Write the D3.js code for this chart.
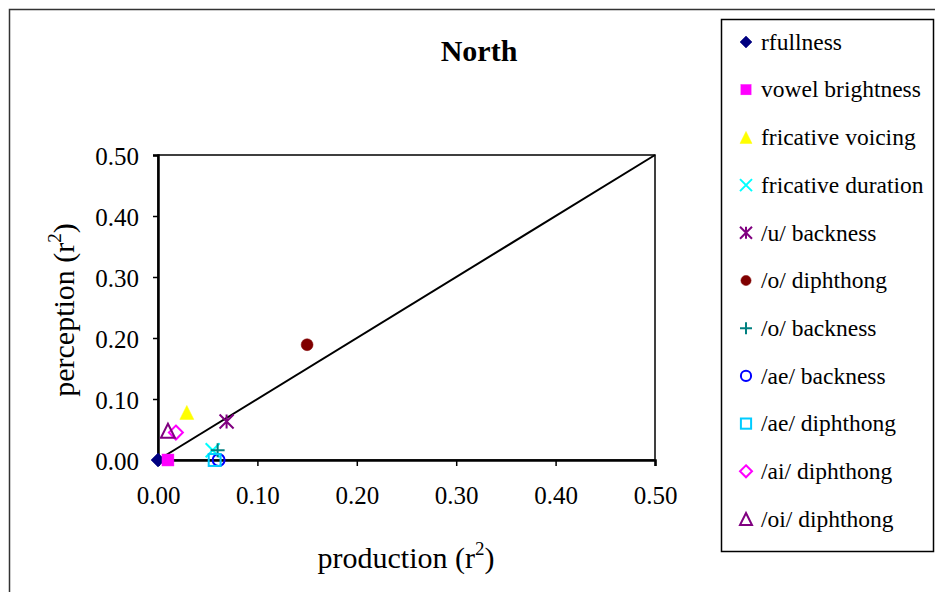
<!DOCTYPE html>
<html lang="en">
<head>
  <meta charset="utf-8">
  <title>North</title>
  <script src="https://d3js.org/d3.v7.min.js"></script>
  <style>
    body { margin: 0; background: #fff; }
    text { font-family: "Liberation Serif", "DejaVu Serif", serif; fill: #000; }
  </style>
</head>
<body>
  <div id="chart"></div>
  <script>
    "use strict"

    // series names, in legend order
    var series = ["rfullness", "vowel brightness", "fricative voicing", "fricative duration",
                  "/u/ backness", "/o/ diphthong", "/o/ backness", "/ae/ backness",
                  "/ae/ diphthong", "/ai/ diphthong", "/oi/ diphthong"];
    // production r^2 (x) and perception r^2 (y), one point per series
    var production = [0.000, 0.010, 0.029, 0.055, 0.069, 0.150, 0.060, 0.061, 0.057, 0.018, 0.010];
    var perception = [0.000, 0.000, 0.078, 0.016, 0.063, 0.189, 0.016, 0.000, 0.000, 0.045, 0.048];
    var ticks = [0, 0.1, 0.2, 0.3, 0.4, 0.5];

    // marker look per series
    var shapes = ["diamond", "square", "triangle", "x", "star", "circle", "plus", "circle", "square", "diamond", "triangle"];
    var filled = [true, true, true, false, false, true, false, false, false, false, false];
    var colors = ["#000080", "#ff00ff", "#ffff00", "#00ffff", "#800080", "#800000",
                  "#008080", "#0000ff", "#00ccff", "#ff00ff", "#800080"];

    var W = 935, H = 592;
    var svg = d3.select("#chart").append("svg").attr("width", W).attr("height", H);

    // outer chart frame (runs off the page on right and bottom)
    svg.append("rect").attr("x", 9.5).attr("y", 9.5).attr("width", 960).attr("height", 620)
       .attr("fill", "none").attr("stroke", "#333").attr("stroke-width", 1.5);

    var x = d3.scaleLinear().domain([0, 0.5]).range([158, 655]);
    var y = d3.scaleLinear().domain([0, 0.5]).range([460, 155]);

    // plot area box
    svg.append("rect").attr("x", x(0)).attr("y", y(0.5))
       .attr("width", x(0.5) - x(0)).attr("height", y(0) - y(0.5))
       .attr("fill", "none").attr("stroke", "#000").attr("stroke-width", 1.5);

    var fmt = d3.format(".2f");
    var gx = svg.append("g").attr("transform", "translate(0," + y(0) + ")")
       .call(d3.axisBottom(x).tickValues(ticks).tickFormat(fmt).tickSize(6).tickPadding(20));
    var gy = svg.append("g").attr("transform", "translate(" + x(0) + ",0)")
       .call(d3.axisLeft(y).tickValues(ticks).tickFormat(fmt).tickSize(5).tickPadding(14));
    [gx, gy].forEach(function(g) {
      g.select(".domain").attr("stroke", "#000").attr("stroke-width", 2.5);
      g.selectAll(".tick line").attr("stroke", "#000").attr("stroke-width", 1.5);
      g.selectAll(".tick text").attr("font-size", 25).attr("font-family", "Liberation Serif").attr("fill", "#000");
    });
    gy.selectAll(".tick text").attr("dy", "0.36em");

    // diagonal y = x
    svg.append("line").attr("x1", x(0)).attr("y1", y(0)).attr("x2", x(0.5)).attr("y2", y(0.5))
       .attr("stroke", "#000").attr("stroke-width", 2);

    function marker(g, shape, color, fill, s) {
      var r = s / 2;
      if (shape === "diamond") {
        g.append("path").attr("d", "M0," + (-r) + "L" + r + ",0L0," + r + "L" + (-r) + ",0Z");
      } else if (shape === "square") {
        g.append("rect").attr("x", -r * 0.85).attr("y", -r * 0.85).attr("width", s * 0.85).attr("height", s * 0.85);
      } else if (shape === "triangle") {
        g.append("path").attr("d", "M0," + (-r) + "L" + r + "," + r + "L" + (-r) + "," + r + "Z");
      } else if (shape === "circle") {
        g.append("circle").attr("r", r * 0.85);
      } else if (shape === "x") {
        g.append("path").attr("d", "M" + (-r) + "," + (-r) + "L" + r + "," + r + "M" + r + "," + (-r) + "L" + (-r) + "," + r);
      } else if (shape === "plus") {
        g.append("path").attr("d", "M0," + (-r) + "L0," + r + "M" + (-r) + ",0L" + r + ",0");
      } else if (shape === "star") {
        g.append("path").attr("d", "M" + (-r) + "," + (-r) + "L" + r + "," + r + "M" + r + "," + (-r) + "L" + (-r) + "," + r + "M0," + (-r) + "L0," + r);
      }
      g.selectAll("*")
       .attr("fill", fill ? color : "none")
       .attr("stroke", color)
       .attr("stroke-width", fill ? 0.5 : 2);
    }

    // points
    series.forEach(function(name, i) {
      var g = svg.append("g").attr("transform", "translate(" + x(production[i]) + "," + y(perception[i]) + ")");
      marker(g, shapes[i], colors[i], filled[i], 14);
    });

    // title and axis titles
    svg.append("text").attr("x", 479).attr("y", 61).attr("text-anchor", "middle")
       .attr("font-size", 30).attr("font-weight", "bold").text("North");

    var xt = svg.append("text").attr("x", 406).attr("y", 568).attr("text-anchor", "middle").attr("font-size", 30);
    xt.append("tspan").text("production (r");
    xt.append("tspan").attr("dy", -13).attr("font-size", 19).text("2");
    xt.append("tspan").attr("dy", 13).text(")");

    var yt = svg.append("text").attr("transform", "translate(74,310) rotate(-90)")
       .attr("text-anchor", "middle").attr("font-size", 30);
    yt.append("tspan").text("perception (r");
    yt.append("tspan").attr("dy", -13).attr("font-size", 19).text("2");
    yt.append("tspan").attr("dy", 13).text(")");

    // legend
    svg.append("rect").attr("x", 721.5).attr("y", 19.5).attr("width", 212).attr("height", 532)
       .attr("fill", "#fff").attr("stroke", "#000").attr("stroke-width", 1.5);
    var ly = d3.scaleLinear().domain([0, series.length - 1]).range([42, 519]);
    series.forEach(function(name, i) {
      var g = svg.append("g").attr("transform", "translate(746," + ly(i) + ")");
      marker(g, shapes[i], colors[i], filled[i], 12);
      svg.append("text").attr("x", 761).attr("y", ly(i)).attr("dy", "0.33em")
         .attr("font-size", 23.5).text(name);
    });
  </script>
</body>
</html>
